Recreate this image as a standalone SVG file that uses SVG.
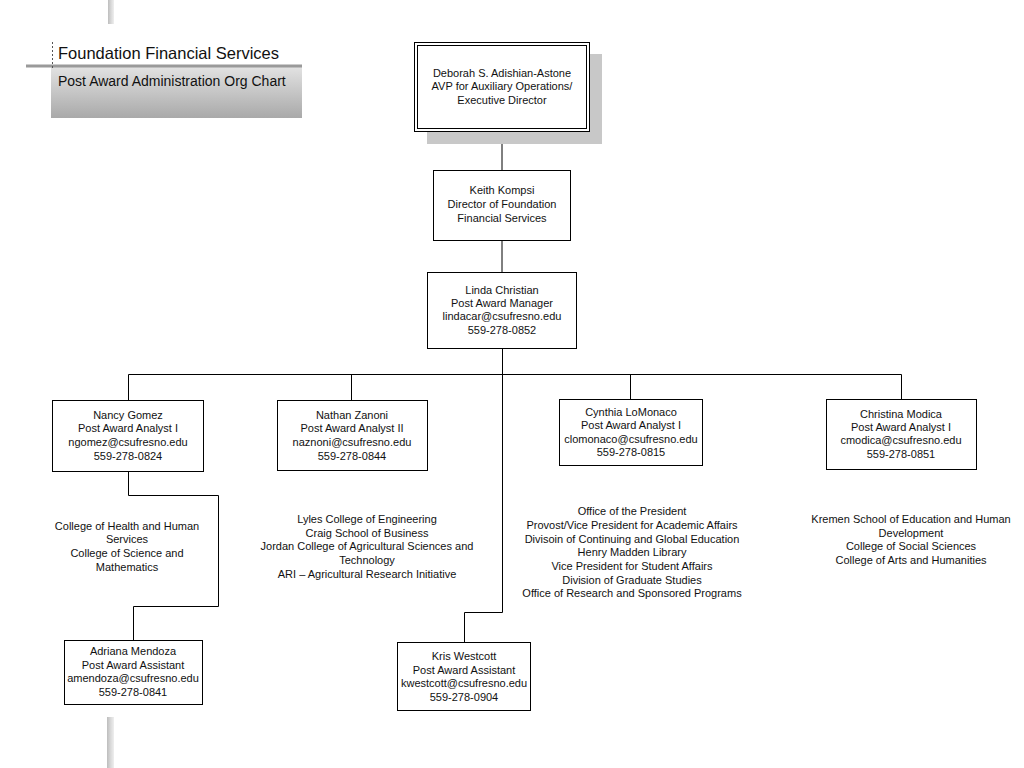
<svg xmlns="http://www.w3.org/2000/svg" width="1024" height="768" viewBox="0 0 1024 768">
<defs>
<linearGradient id="hdr" x1="0" y1="0" x2="0" y2="1">
<stop offset="0" stop-color="#e2e2e2"/>
<stop offset="1" stop-color="#a9a9a9"/>
</linearGradient>
<linearGradient id="bar" x1="0" y1="0" x2="1" y2="0">
<stop offset="0" stop-color="#bdbdbd"/>
<stop offset="0.5" stop-color="#d8d8d8"/>
<stop offset="1" stop-color="#efefef"/>
</linearGradient>
</defs>
<style>
text{font-family:"Liberation Sans",Arial,sans-serif;font-size:11px;fill:#111;text-anchor:middle}
.box{fill:#fff;stroke:#000;stroke-width:1}
.ln{fill:none;stroke:#000;stroke-width:1}
.t1{font-size:16.5px;text-anchor:start}
.t2{font-size:14px;text-anchor:start}
</style>
<rect width="1024" height="768" fill="#fff"/>
<g id="decor">
<rect x="108" y="0" width="6" height="24" fill="url(#bar)"/>
<rect x="107" y="717" width="7" height="51" fill="url(#bar)"/>
</g>
<g id="header">
<rect x="51" y="67" width="251" height="51" fill="url(#hdr)"/>
<line x1="26" y1="66" x2="302" y2="66" stroke="#9a9a9a" stroke-width="3"/>
<line x1="52.5" y1="42" x2="52.5" y2="68" stroke="#555" stroke-width="1" stroke-dasharray="2,2"/>
<text class="t1" x="58" y="59">Foundation Financial Services</text>
<text class="t2" x="58" y="86">Post Award Administration Org Chart</text>
</g>
<g id="connectors">
<path class="ln" d="M502,131V170M502,240V272M502.5,348V612.5H464.5V642"/>
<path class="ln" d="M128.5,400V374.5H901.5V399M351.5,374.5V400M630.5,374.5V399"/>
<path class="ln" d="M128.5,471V495.5H218.5V606.5H133.5V640"/>
</g>
<g id="deborah">
<rect x="427" y="54" width="175" height="90" fill="#c8c8c8"/>
<rect class="box" x="414.5" y="42.5" width="175" height="89"/>
<rect x="417.5" y="45.5" width="169" height="83" fill="none" stroke="#000" stroke-width="1"/>
<text x="502" y="77">Deborah S. Adishian-Astone</text>
<text x="502" y="90">AVP for Auxiliary Operations/</text>
<text x="502" y="104">Executive Director</text>
</g>
<g id="keith">
<rect class="box" x="433.5" y="170.5" width="137" height="70"/>
<text x="502" y="194">Keith Kompsi</text>
<text x="502" y="208">Director of Foundation</text>
<text x="502" y="222">Financial Services</text>
</g>
<g id="linda">
<rect class="box" x="427.5" y="272.5" width="149" height="76"/>
<text x="502" y="294">Linda Christian</text>
<text x="502" y="307">Post Award Manager</text>
<text x="502" y="320">lindacar@csufresno.edu</text>
<text x="502" y="334">559-278-0852</text>
</g>
<g id="nancy">
<rect class="box" x="52.5" y="400.5" width="151" height="71"/>
<text x="128" y="419">Nancy Gomez</text>
<text x="128" y="432">Post Award Analyst I</text>
<text x="128" y="446">ngomez@csufresno.edu</text>
<text x="128" y="460">559-278-0824</text>
</g>
<g id="nathan">
<rect class="box" x="277.5" y="400.5" width="150" height="70"/>
<text x="352" y="419">Nathan Zanoni</text>
<text x="352" y="432">Post Award Analyst II</text>
<text x="352" y="446">naznoni@csufresno.edu</text>
<text x="352" y="460">559-278-0844</text>
</g>
<g id="cynthia">
<rect class="box" x="559.5" y="399.5" width="143" height="66"/>
<text x="631" y="416">Cynthia LoMonaco</text>
<text x="631" y="429">Post Award Analyst I</text>
<text x="631" y="443">clomonaco@csufresno.edu</text>
<text x="631" y="456">559-278-0815</text>
</g>
<g id="christina">
<rect class="box" x="826.5" y="399.5" width="150" height="70"/>
<text x="901" y="418">Christina Modica</text>
<text x="901" y="431">Post Award Analyst I</text>
<text x="901" y="444">cmodica@csufresno.edu</text>
<text x="901" y="458">559-278-0851</text>
</g>
<g id="nancy-units">
<text x="127" y="530">College of Health and Human</text>
<text x="127" y="543">Services</text>
<text x="127" y="557">College of Science and</text>
<text x="127" y="571">Mathematics</text>
</g>
<g id="nathan-units">
<text x="367" y="523">Lyles College of Engineering</text>
<text x="367" y="537">Craig School of Business</text>
<text x="367" y="550">Jordan College of Agricultural Sciences and</text>
<text x="367" y="564">Technology</text>
<text x="367" y="578">ARI – Agricultural Research Initiative</text>
</g>
<g id="cynthia-units">
<text x="632" y="515">Office of the President</text>
<text x="632" y="529">Provost/Vice President for Academic Affairs</text>
<text x="632" y="543">Divisoin of Continuing and Global Education</text>
<text x="632" y="556">Henry Madden Library</text>
<text x="632" y="570">Vice President for Student Affairs</text>
<text x="632" y="584">Division of Graduate Studies</text>
<text x="632" y="597">Office of Research and Sponsored Programs</text>
</g>
<g id="christina-units">
<text x="911" y="523">Kremen School of Education and Human</text>
<text x="911" y="537">Development</text>
<text x="911" y="550">College of Social Sciences</text>
<text x="911" y="564">College of Arts and Humanities</text>
</g>
<g id="adriana">
<rect class="box" x="64.5" y="640.5" width="138" height="64"/>
<text x="133" y="655">Adriana Mendoza</text>
<text x="133" y="669">Post Award Assistant</text>
<text x="133" y="682">amendoza@csufresno.edu</text>
<text x="133" y="696">559-278-0841</text>
</g>
<g id="kris">
<rect class="box" x="397.5" y="642.5" width="133" height="68"/>
<text x="464" y="660">Kris Westcott</text>
<text x="464" y="674">Post Award Assistant</text>
<text x="464" y="687">kwestcott@csufresno.edu</text>
<text x="464" y="701">559-278-0904</text>
</g>
</svg>
